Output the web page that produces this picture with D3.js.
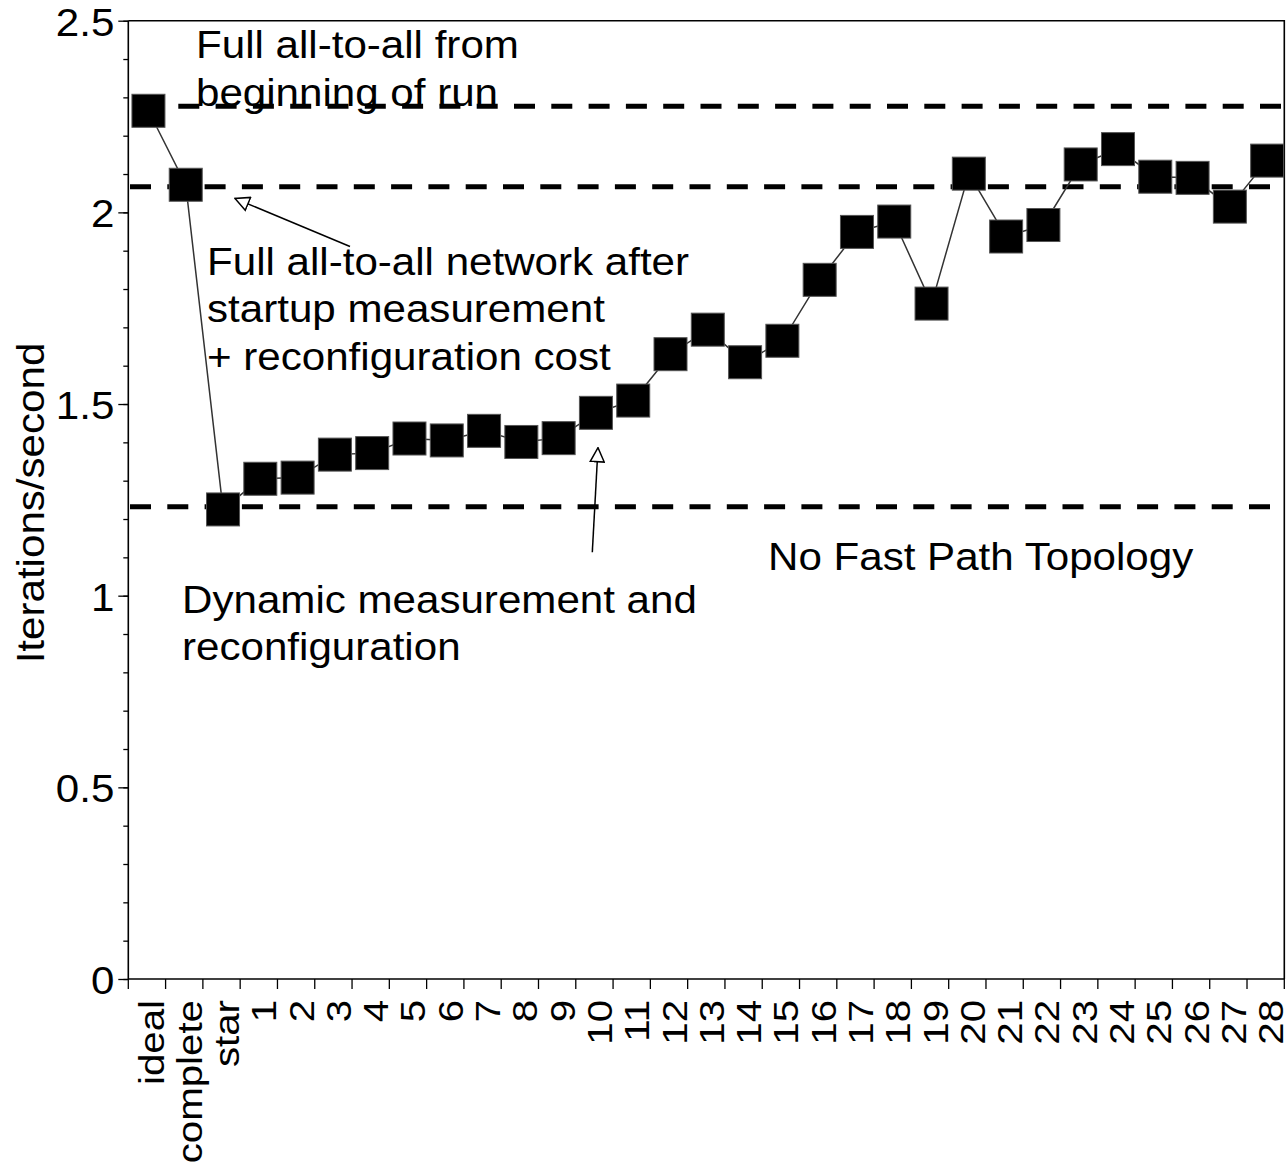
<!DOCTYPE html>
<html>
<head>
<meta charset="utf-8">
<script src="https://cdn.jsdelivr.net/npm/d3@7"></script>
<style>
  body { margin: 0; background: #fff; }
  svg { display: block; font-family: "Liberation Sans", Arial, sans-serif; }
</style>
</head>
<body>
<svg id="chart" width="1287" height="1166"></svg>
<script>
//////////////////////////////////////
// Data

const categories = ['ideal', 'complete', 'star',
  '1', '2', '3', '4', '5', '6', '7', '8', '9', '10',
  '11', '12', '13', '14', '15', '16', '17', '18', '19', '20',
  '21', '22', '23', '24', '25', '26', '27', '28'];

const iterationsPerSecond = [2.265, 2.072, 1.225,
  1.305, 1.308, 1.368, 1.372, 1.410, 1.405, 1.430, 1.401, 1.411, 1.477,
  1.509, 1.630, 1.694, 1.609, 1.665, 1.824, 1.949, 1.976, 1.762, 2.101,
  1.937, 1.967, 2.125, 2.165, 2.093, 2.090, 2.015, 2.135];

// dashed reference levels: full from start, full after startup, no fast path
const refLevels = [2.277, 2.067, 1.232];

const yMajorTicks = [0, 0.5, 1, 1.5, 2, 2.5];
const yTickLabels = ['0', '0.5', '1', '1.5', '2', '2.5'];
const yMinorTicks = d3.range(0, 26).map(d => d / 10);

const yTitle = 'Iterations/second';

const notes = [
  ['Full all-to-all from', 'beginning of run'],
  ['Full all-to-all network after', 'startup measurement', '+ reconfiguration cost'],
  ['Dynamic measurement and', 'reconfiguration'],
  ['No Fast Path Topology']
];

//////////////////////////////////////
// Layout

const plotL = 128.3, plotR = 1284.3, plotT = 20.7, plotB = 979;
const fontSize = 39, stretch = 1.08;     // horizontal text is a bit wide
const xFont = 35, xStretch = 1.15;       // rotated category labels
const lineGap = 47.3;

const svg = d3.select('#chart');

const x = d3.scaleBand().domain(categories).range([plotL, plotR]);
const y = d3.scaleLinear().domain([0, 2.5]).range([plotB, plotT]);
const cx = d => x(d) + x.bandwidth() / 2 + 1.5;

//////////////////////////////////////
// Frame + axes

svg.append('path')
  .attr('d', `M${plotL},${plotT}H${plotR}V${plotB}`)
  .attr('fill', 'none').attr('stroke', '#000').attr('stroke-width', 1.6);

// minor y ticks
svg.append('g')
  .attr('transform', `translate(${plotL},0)`)
  .call(d3.axisLeft(y).tickValues(yMinorTicks).tickSize(5).tickFormat(''))
  .call(g => g.select('.domain').remove())
  .selectAll('line').attr('stroke', '#000').attr('stroke-width', 1.3);

// major y ticks + labels
const yAxis = svg.append('g')
  .attr('transform', `translate(${plotL},0)`)
  .call(d3.axisLeft(y).tickValues(yMajorTicks).tickSize(10).tickPadding(0)
    .tickFormat((d, i) => yTickLabels[i]));
yAxis.select('.domain').attr('d', `M0,${plotB}V${plotT}`).attr('stroke', '#000').attr('stroke-width', 1.6);
yAxis.selectAll('line').attr('stroke', '#000').attr('stroke-width', 1.3);
yAxis.selectAll('text')
  .attr('font-size', fontSize)
  .attr('font-family', '"Liberation Sans", Arial, sans-serif')
  .attr('fill', '#000')
  .attr('x', -14 / stretch)
  .attr('dy', '0.37em')
  .attr('transform', `scale(${stretch},1)`);

// x axis: ticks on band edges, labels rotated
const xAxis = svg.append('g')
  .attr('transform', `translate(0,${plotB})`)
  .call(d3.axisBottom(x).tickSize(0));
xAxis.select('.domain').attr('d', `M${plotL},0H${plotR}`).attr('stroke', '#000').attr('stroke-width', 1.6);
xAxis.selectAll('text')
  .attr('font-size', xFont)
  .attr('font-family', '"Liberation Sans", Arial, sans-serif')
  .attr('fill', '#000')
  .attr('text-anchor', 'end')
  .attr('x', -21 / xStretch)
  .attr('y', 17.5)
  .attr('dy', 0)
  .attr('transform', `rotate(-90) scale(${xStretch},1)`);

const edges = categories.map(d => x(d)).concat([plotR]);
xAxis.selectAll('.edge')
  .data(edges)
  .enter().append('line')
  .attr('class', 'edge')
  .attr('x1', d => d).attr('x2', d => d)
  .attr('y1', 0).attr('y2', 10)
  .attr('stroke', '#000').attr('stroke-width', 1.3);

// y title
svg.append('text')
  .attr('transform', `translate(44,503) rotate(-90) scale(${stretch},1)`)
  .attr('text-anchor', 'middle')
  .attr('font-size', fontSize)
  .text(yTitle);

//////////////////////////////////////
// Reference lines

const refStart = [178.3, 130, 130];
svg.selectAll('.ref')
  .data(refLevels)
  .enter().append('line')
  .attr('class', 'ref')
  .attr('x1', (d, i) => refStart[i]).attr('x2', plotR)
  .attr('y1', d => y(d)).attr('y2', d => y(d))
  .attr('stroke', '#000')
  .attr('stroke-width', 5)
  .attr('stroke-dasharray', '21 16.3');

//////////////////////////////////////
// Series

const points = categories.map((c, i) => ({c: c, v: iterationsPerSecond[i]}));

svg.append('path')
  .datum(points)
  .attr('fill', 'none')
  .attr('stroke', '#333')
  .attr('stroke-width', 1.5)
  .attr('d', d3.line().x(d => cx(d.c)).y(d => y(d.v)));

const size = 33;
svg.selectAll('.pt')
  .data(points)
  .enter().append('rect')
  .attr('class', 'pt')
  .attr('x', d => cx(d.c) - size / 2)
  .attr('y', d => y(d.v) - size / 2)
  .attr('width', size).attr('height', size)
  .attr('fill', '#000')
  .attr('stroke', '#555')
  .attr('stroke-width', 1);

//////////////////////////////////////
// Annotations

svg.append('defs').append('marker')
  .attr('id', 'open-arrow')
  .attr('viewBox', '0 0 16 16')
  .attr('refX', 15).attr('refY', 8)
  .attr('markerWidth', 16).attr('markerHeight', 16)
  .attr('markerUnits', 'userSpaceOnUse')
  .attr('orient', 'auto')
  .append('path')
  .attr('d', 'M1,1L15,8L1,15Z')
  .attr('fill', '#fff')
  .attr('stroke', '#000')
  .attr('stroke-width', 1.5);

const arrows = [
  [[350, 246.5], [235, 198.5]],
  [[592.3, 552.3], [598, 447.7]]
];
svg.selectAll('.arrow')
  .data(arrows)
  .enter().append('line')
  .attr('class', 'arrow')
  .attr('x1', d => d[0][0]).attr('y1', d => d[0][1])
  .attr('x2', d => d[1][0]).attr('y2', d => d[1][1])
  .attr('stroke', '#000')
  .attr('stroke-width', 1.5)
  .attr('marker-end', 'url(#open-arrow)');

const notePos = [[196, 58.3], [207, 275], [182, 612.7], [768, 570]];
notes.forEach(function(lines, i) {
  const t = svg.append('text')
    .attr('transform', `translate(${notePos[i][0]},${notePos[i][1]}) scale(${stretch},1)`)
    .attr('font-size', fontSize)
    .attr('fill', '#000');
  lines.forEach(function(s, j) {
    t.append('tspan').attr('x', 0).attr('y', j * lineGap).text(s);
  });
});
</script>
</body>
</html>
